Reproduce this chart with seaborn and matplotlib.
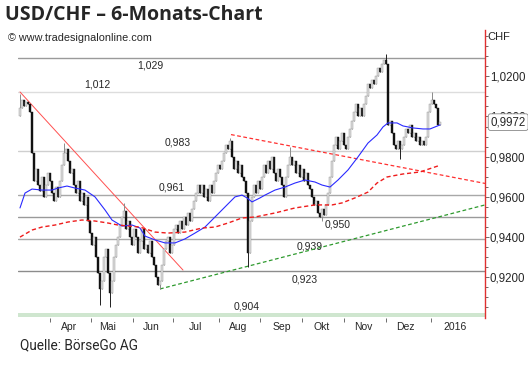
import numpy as np
import pandas as pd
import matplotlib
matplotlib.use("Agg")
import matplotlib.pyplot as plt
import seaborn as sns

# daily closes USD/CHF (bar index 0..210)
closes = [
    1.004, 1.008, 1.005, 1.007, 1.006, 1.002, 0.982, 0.968, 0.974, 0.966,
    0.963, 0.970, 0.960, 0.966, 0.972, 0.968, 0.962, 0.958, 0.965, 0.960,
    0.968, 0.976, 0.982, 0.984, 0.978, 0.972, 0.974, 0.966, 0.962, 0.968,
    0.958, 0.962, 0.956, 0.960, 0.948, 0.942, 0.936, 0.940, 0.930, 0.922,
    0.914, 0.918, 0.930, 0.934, 0.922, 0.912, 0.918, 0.930, 0.936, 0.940,
    0.946, 0.950, 0.953, 0.944, 0.948, 0.940, 0.936, 0.944, 0.940, 0.932,
    0.938, 0.944, 0.934, 0.936, 0.932, 0.938, 0.930, 0.926, 0.920, 0.916,
    0.918, 0.926, 0.934, 0.938, 0.940, 0.932, 0.936, 0.944, 0.946, 0.942,
    0.948, 0.944, 0.950, 0.946, 0.952, 0.948, 0.954, 0.958, 0.962, 0.966,
    0.962, 0.966, 0.960, 0.964, 0.958, 0.966, 0.962, 0.968, 0.972, 0.976,
    0.974, 0.978, 0.982, 0.986, 0.984, 0.988, 0.980, 0.974, 0.978, 0.972,
    0.976, 0.970, 0.968, 0.962, 0.932, 0.948, 0.960, 0.966, 0.962, 0.968,
    0.964, 0.970, 0.976, 0.972, 0.978, 0.974, 0.980, 0.972, 0.968, 0.974,
    0.970, 0.966, 0.960, 0.970, 0.976, 0.980, 0.976, 0.978, 0.972, 0.976,
    0.970, 0.974, 0.968, 0.972, 0.966, 0.964, 0.960, 0.956, 0.958, 0.952,
    0.950, 0.954, 0.951, 0.956, 0.962, 0.970, 0.978, 0.986, 0.990, 0.984,
    0.988, 0.992, 0.986, 0.984, 0.990, 0.994, 0.998, 1.002, 1.006, 1.000,
    1.004, 1.000, 1.006, 1.010, 1.016, 1.014, 1.018, 1.016, 1.020, 1.024,
    1.022, 1.026, 1.028, 1.026, 0.996, 0.998, 0.992, 0.986, 0.984, 0.988,
    0.984, 0.986, 0.990, 0.994, 0.992, 0.996, 0.990, 0.992, 0.988, 0.990,
    0.986, 0.988, 0.986, 0.990, 1.002, 1.006, 1.008, 1.006, 1.004, 0.996,
    0.9972,
]
first_open = 1.000

# notable wick extremes {bar: value}
spike_highs = {0: 1.011, 22: 0.987, 52: 0.957, 105: 0.9895, 135: 0.985,
               183: 1.031, 206: 1.012}
spike_lows = {40: 0.906, 45: 0.905, 70: 0.914, 114: 0.925, 151: 0.948,
              190: 0.979}

# moving averages (bar, value)
ma_fast_x = [0, 2.5, 6, 11, 16, 19, 23.5, 27.5, 32.5, 37.5, 42.5, 46, 51, 56,
             60, 62.5, 67.5, 72.5, 77.5, 82.5, 87.5, 92.5, 97.5, 102.5, 107.5,
             111, 113.5, 116, 120, 122.5, 127.5, 132.5, 137.5, 142.5, 147.5,
             151, 155, 159, 164, 169, 174, 178.5, 181.5, 184, 188.5, 191.5,
             196.5, 201.5, 205, 207.5, 210]
ma_fast_y = [0.9545, 0.9619, 0.9639, 0.9634, 0.9634, 0.9644, 0.9654, 0.9644,
             0.9634, 0.9600, 0.9535, 0.9485, 0.9455, 0.9460, 0.9445, 0.9405,
             0.9386, 0.9371, 0.9371, 0.9391, 0.9420, 0.9450, 0.9500, 0.9550,
             0.9600, 0.9609, 0.9595, 0.9575, 0.9595, 0.9609, 0.9634, 0.9649,
             0.9669, 0.9684, 0.9674, 0.9659, 0.9649, 0.9684, 0.9734, 0.9799,
             0.9868, 0.9908, 0.9948, 0.9968, 0.9968, 0.9953, 0.9943, 0.9938,
             0.9938, 0.9948, 0.9958]
ma_slow_x = [0, 6, 11, 17.5, 24, 31, 37.5, 44, 49, 54, 60, 67.5, 74, 82.5, 91,
             97.5, 104, 111, 117.5, 127.5, 137.5, 147.5, 156, 161, 167.5, 174,
             178.5, 183.5, 191.5, 200, 209]
ma_slow_y = [0.9400, 0.9435, 0.9450, 0.9460, 0.9475, 0.9485, 0.9480, 0.9470,
             0.9460, 0.9455, 0.9450, 0.9425, 0.9420, 0.9425, 0.9445, 0.9450,
             0.9470, 0.9495, 0.9500, 0.9520, 0.9545, 0.9560, 0.9560, 0.9570,
             0.9595, 0.9624, 0.9669, 0.9699, 0.9714, 0.9724, 0.9754]

# trend lines (bar, value) start -> end
down_trend = [(0, 1.0122), (81.5, 0.9236)]
upper_trend = [(105.5, 0.9910), (232.5, 0.9667)]
lower_trend = [(70, 0.9142), (232.5, 0.9560)]

# horizontal levels
levels = [1.029, 1.012, 0.983, 0.961, 0.950, 0.939, 0.923]
level_colors = ["#9a9a9a", "#dddddd", "#cfcfcf", "#a8a8a8", "#9a9a9a", "#a8a8a8", "#8c8c8c"]
level_label_x = [65, 38.5, 79, 76, 159, 145, 142.5]
level_above = [False, True, True, True, False, False, False]
support_label = "0,904"
support_label_x = 113.5

month_bounds = [15, 35.5, 56.5, 76.5, 99.5, 120, 141, 162, 183, 205.5]
month_label_x = [24.5, 44, 65.5, 87.5, 109, 131, 151, 171.5, 192.5, 217.5]
month_labels = ["Apr", "Mai", "Jun", "Jul", "Aug", "Sep", "Okt", "Nov", "Dez", "2016"]

price_ticks = [0.92, 0.94, 0.96, 0.98, 1.00, 1.02]
last_price = 0.9972

sns.set_style("white")
plt.rcParams['font.family'] = ['Liberation Sans', 'DejaVu Sans']

fig = plt.figure(figsize=(5.28, 3.68), dpi=100)
ax = fig.add_axes([18 / 528, 1 - 318 / 368, (485 - 18) / 528, (318 - 30) / 368])

# support band at the bottom
ax.axhspan(0.9003, 0.9022, color="#cfe6cf", lw=0, zorder=1)
ax.text(support_label_x, 0.9030, support_label, ha="center", va="bottom", fontsize=7.5)

for lv, col, lx, above in zip(levels, level_colors, level_label_x, level_above):
    ax.axhline(lv, color=col, lw=1, zorder=1)
    lab = f"{lv:.3f}".replace(".", ",")
    ax.annotate(lab, (lx, lv), xytext=(0, 2 if above else -2), textcoords="offset points",
                ha="center", va="bottom" if above else "top", fontsize=7.5)

# trend lines
ax.plot(*zip(*down_trend), color="#ff5050", lw=0.7, zorder=3)
ax.plot(*zip(*upper_trend), color="#ff3030", lw=0.9, ls=(0, (3, 2)), zorder=3)
ax.plot(*zip(*lower_trend), color="#2e9a2e", lw=0.9, ls=(0, (3, 2)), zorder=3)

# candles
idx = np.arange(len(closes))
opens = np.array([first_open] + closes[:-1])
cl = np.array(closes)
hi = np.maximum(opens, cl)
lo = np.minimum(opens, cl)
for k, v in spike_highs.items():
    hi[k] = max(hi[k], v)
for k, v in spike_lows.items():
    lo[k] = min(lo[k], v)
down = cl < opens
ax.vlines(idx, lo, hi, color=np.where(down, "#202020", "#8a8a8a"), lw=0.7, zorder=4)
body_bottom = np.minimum(opens, cl)
body_h = np.maximum(np.abs(cl - opens), 0.0006)
ax.bar(idx[down], body_h[down], bottom=body_bottom[down],
       width=0.9, color="#111111", edgecolor="#111111", lw=0.3, zorder=5)
ax.bar(idx[~down], body_h[~down], bottom=body_bottom[~down],
       width=0.9, color="#dcdcdc", edgecolor="#909090", lw=0.3, zorder=5)

# moving averages
sns.lineplot(x=ma_fast_x, y=ma_fast_y, ax=ax, color="#2a2aff", lw=0.8, zorder=6)
sns.lineplot(x=ma_slow_x, y=ma_slow_y, ax=ax, color="#ee1c1c", lw=1.0,
             linestyle=(0, (3, 2)), zorder=6)

ax.set_xlim(-1, 232.5)
ax.set_ylim(0.89975, 1.04303)

# axes styling
for s in ["left", "top", "bottom"]:
    ax.spines[s].set_visible(False)
ax.spines["right"].set_color("#e03030")
ax.spines["right"].set_linewidth(1.0)

ax.yaxis.tick_right()
ax.set_yticks(price_ticks)
ax.set_yticklabels([f"{t:.4f}".replace(".", ",") for t in price_ticks])
ax.set_yticks(np.arange(0.905, 1.041, 0.005), minor=True)
ax.tick_params(axis="y", which="major", length=3, width=0.6, color="#555555",
               labelsize=8.3, pad=0.5, right=True)
ax.tick_params(axis="y", which="minor", length=2, width=0.6, color="#555555", right=True)

ax.set_xticks(month_bounds)
ax.set_xticklabels([])
ax.set_xticks(month_label_x, minor=True)
ax.set_xticklabels(month_labels, minor=True)
ax.tick_params(axis="x", which="major", length=3, width=0.6, color="#555555", bottom=True)
ax.tick_params(axis="x", which="minor", length=0, labelsize=7.5, pad=3)

ax.text(1.005, 0.975, "CHF", transform=ax.transAxes, fontsize=8, ha="left", va="center")
ax.annotate(f"{last_price:.4f}".replace(".", ","), (232.5, last_price),
            xytext=(4, 0), textcoords="offset points", ha="left", va="center",
            fontsize=8.3, zorder=10, annotation_clip=False,
            bbox=dict(boxstyle="round,pad=0.2", fc="white", ec="#888888", lw=0.6))

fig.text(5 / 528, 1 - 15 / 368, "USD/CHF – 6-Monats-Chart", fontsize=14,
         fontweight="bold", family=["Open Sans", "DejaVu Sans"], ha="left", va="center")
fig.text(8 / 528, 1 - 38 / 368, "© www.tradesignalonline.com", fontsize=7.8,
         ha="left", va="center")
fig.text(20 / 528, 1 - 345 / 368, "Quelle: BörseGo AG", fontsize=9.8,
         family=["Roboto", "DejaVu Sans"], ha="left", va="center")

fig.savefig("out.png", dpi=100)
